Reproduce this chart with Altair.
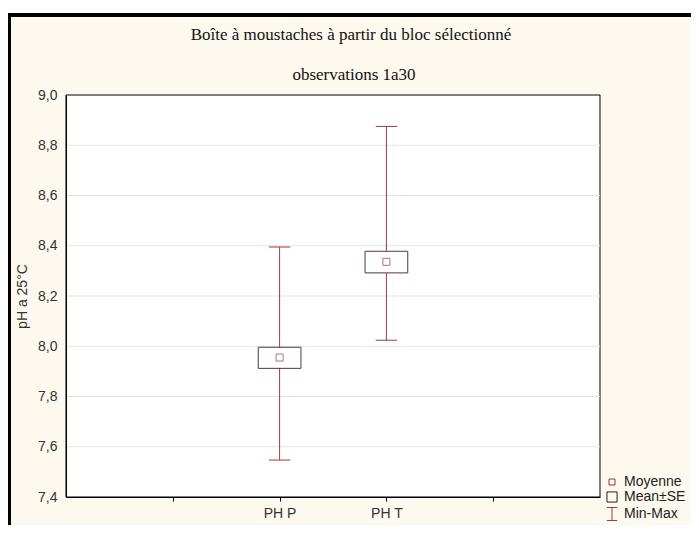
import altair as alt
import pandas as pd

# ---- data ----
categories = ["PH P", "PH T"]
positions = [2, 3]
means = [7.955, 8.336]
se_low = [7.912, 8.292]
se_high = [7.996, 8.378]
mins = [7.547, 8.024]
maxs = [8.395, 8.875]
legend_items = ["Moyenne", "Mean±SE", "Min-Max"]
y_ticks = [7.4, 7.6, 7.8, 8.0, 8.2, 8.4, 8.6, 8.8, 9.0]
grid_values = [7.6, 7.8, 8.0, 8.2, 8.4, 8.6, 8.8]
x_ticks = [1, 2, 3, 4]
title_text = "Boîte à moustaches à partir du bloc sélectionné"
subtitle_text = "observations 1a30"

df = pd.DataFrame({
    "cat": categories, "pos": positions, "mean": means,
    "lo": se_low, "hi": se_high, "mn": mins, "mx": maxs,
})

W, H = 534, 402
CREAM = "#fdf9ee"
WHISK = "#9e3b3b"
BOXC = "#5a3434"
MEANC = "#8c3a3a"
LBL = "#333333"

label_expr = " : ".join(
    f"datum.value == {p} ? '{c}'" for p, c in zip(positions, categories)
) + " : ''"

xs = alt.Scale(domain=[0, 5], nice=False, zero=False)
ys = alt.Scale(domain=[7.4, 9.0], nice=False, zero=False)

x_axis = alt.Axis(values=x_ticks, labelExpr=label_expr, title=None, grid=False,
                  tickSize=4, tickColor="black", domainColor="black",
                  labelFont="Liberation Sans", labelFontSize=14, labelColor=LBL,
                  labelPadding=5, zindex=1)
y_axis = alt.Axis(values=y_ticks, format=".1f",
                  labelExpr="replace(format(datum.value, '.1f'), '.', ',')",
                  title="pH a 25°C", grid=False, ticks=False, domainColor="black",
                  labelFont="Liberation Sans", labelFontSize=14, labelColor=LBL,
                  labelPadding=9, titleFont="Liberation Sans", titleFontSize=14,
                  titleFontWeight="normal", titleColor=LBL, titlePadding=8, zindex=1)

one = pd.DataFrame({"a": [0]})

frame = alt.Chart(one).mark_rect(fill=CREAM, stroke="black", strokeWidth=4).encode(
    x=alt.value(-57), x2=alt.value(W + 200), y=alt.value(-80), y2=alt.value(H + 200)
)
plot_bg = alt.Chart(one).mark_rect(fill="white", stroke="black", strokeWidth=1).encode(
    x=alt.value(0), x2=alt.value(W), y=alt.value(0), y2=alt.value(H)
)
title_mark = alt.Chart(one).mark_text(
    text=title_text, font="Liberation Serif", fontSize=17, color="#111111",
    align="center", baseline="alphabetic"
).encode(x=alt.value(285), y=alt.value(-55))
subtitle_mark = alt.Chart(one).mark_text(
    text=subtitle_text, font="Liberation Serif", fontSize=17, color="#111111",
    align="center", baseline="alphabetic"
).encode(x=alt.value(288), y=alt.value(-15))

grid = alt.Chart(pd.DataFrame({"v": grid_values})).mark_rule(color="#e3e3e3", strokeWidth=1).encode(
    y=alt.Y("v:Q", scale=ys, axis=y_axis)
)

base = alt.Chart(df).transform_calculate(
    bx0="datum.pos - 0.2", bx1="datum.pos + 0.2",
    cx0="datum.pos - 0.1", cx1="datum.pos + 0.1",
)

whisker = base.mark_rule(color=WHISK, strokeWidth=1).encode(
    x=alt.X("pos:Q", scale=xs, axis=x_axis),
    y=alt.Y("mn:Q", scale=ys, axis=y_axis),
    y2="mx:Q",
)
cap_top = base.mark_rule(color=WHISK, strokeWidth=1).encode(
    x=alt.X("cx0:Q", scale=xs, axis=x_axis), x2="cx1:Q",
    y=alt.Y("mx:Q", scale=ys, axis=y_axis),
)
cap_bot = base.mark_rule(color=WHISK, strokeWidth=1).encode(
    x=alt.X("cx0:Q", scale=xs, axis=x_axis), x2="cx1:Q",
    y=alt.Y("mn:Q", scale=ys, axis=y_axis),
)
box = base.mark_rect(fill="white", stroke=BOXC, strokeWidth=1).encode(
    x=alt.X("bx0:Q", scale=xs, axis=x_axis), x2="bx1:Q",
    y=alt.Y("lo:Q", scale=ys, axis=y_axis), y2="hi:Q",
)
mean_pt = base.mark_square(size=49, fill="white", stroke=MEANC, strokeWidth=1, filled=True).encode(
    x=alt.X("pos:Q", scale=xs, axis=x_axis),
    y=alt.Y("mean:Q", scale=ys, axis=y_axis),
)

errbar_path = "M-0.8,-1L0.8,-1M0,-1L0,1M-0.8,1L0.8,1"
leg = alt.Legend(title=None, orient="none", legendX=539, legendY=380, padding=0,
                 rowPadding=0, labelFont="Liberation Sans", labelFontSize=14,
                 labelColor="#222222", labelOffset=5, symbolOpacity=1,
                 symbolStrokeWidth=1, symbolFillColor="transparent", zindex=1)
legend_layer = alt.Chart(pd.DataFrame({"item": legend_items})).mark_point(
    opacity=0, filled=False, strokeWidth=1
).encode(
    shape=alt.Shape("item:N", scale=alt.Scale(domain=legend_items,
                    range=["square", "square", errbar_path]), legend=leg),
    size=alt.Size("item:N", scale=alt.Scale(domain=legend_items, range=[36, 169, 169]), legend=leg),
    color=alt.Color("item:N", scale=alt.Scale(domain=legend_items,
                    range=[MEANC, "#222222", WHISK]), legend=leg),
)

chart = alt.layer(
    frame, title_mark, subtitle_mark, plot_bg, grid, whisker, box, mean_pt,
    cap_top, cap_bot, legend_layer
).properties(
    width=W, height=H,
    autosize=alt.AutoSizeParams(type="none"),
    padding={"left": 58, "top": 87, "right": 91, "bottom": 28},
).configure_view(stroke=None).configure(background="white")

chart.save("out.html", embed_options={"renderer": "svg", "actions": False})
